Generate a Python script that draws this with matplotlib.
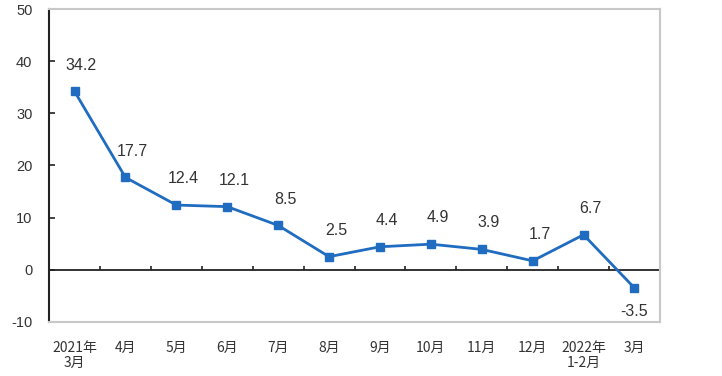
import matplotlib
matplotlib.use("Agg")
import matplotlib.pyplot as plt
import numpy as np

plt.rcParams["font.family"] = ["Liberation Sans", "DejaVu Sans"]

# data
months = ["2021年\n3月", "4月", "5月", "6月", "7月", "8月", "9月", "10月",
          "11月", "12月", "2022年\n1-2月", "3月"]
growth = [34.2, 17.7, 12.4, 12.1, 8.5, 2.5, 4.4, 4.9, 3.9, 1.7, 6.7, -3.5]
y_ticks = [-10, 0, 10, 20, 30, 40, 50]

LINE_COLOR = "#1f6cc0"

fig = plt.figure(figsize=(7.22, 3.76), dpi=100)
ax = fig.add_axes([0.068, 0.144, 0.846, 0.832])

x = np.arange(len(months))
ax.plot(x, growth, color=LINE_COLOR, linewidth=2, marker="s", markersize=6,
        markerfacecolor=LINE_COLOR, markeredgecolor=LINE_COLOR, zorder=3)

for xi, val in zip(x, growth):
    if val < 0:
        ax.annotate(f"{val}", (xi, val), xytext=(0, -17), textcoords="offset points",
                    ha="center", va="center", fontsize=11.5, color="#333333")
    else:
        ax.annotate(f"{val}", (xi, val), xytext=(5, 19), textcoords="offset points",
                    ha="center", va="center", fontsize=11.5, color="#333333")

# zero line with upward ticks between categories
ax.axhline(0, color="#222222", linewidth=1.3, zorder=2)
ax.vlines(np.arange(0.5, len(months) - 0.5, 1), 0, 0.8, color="#222222", linewidth=1.2)

ax.set_xlim(-0.5, len(months) - 0.5)
ax.set_ylim(-10, 50)
ax.set_yticks(y_ticks)
ax.set_yticklabels([str(t) for t in y_ticks], fontsize=10.5, color="#333333")
ax.tick_params(axis="y", direction="in", length=4, width=1.2, color="#222222", pad=12)

ax.set_xticks(x)
ax.set_xticklabels(months, fontsize=10, color="#333333", linespacing=1.1,
                   family=["Noto Sans CJK SC", "DejaVu Sans"])
ax.tick_params(axis="x", length=0, pad=14)

for side in ["top", "right", "bottom"]:
    ax.spines[side].set_color("#c8c8c8")
    ax.spines[side].set_linewidth(1.5)
ax.spines["left"].set_color("#222222")
ax.spines["left"].set_linewidth(1.5)

fig.savefig("out.png", dpi=100)
